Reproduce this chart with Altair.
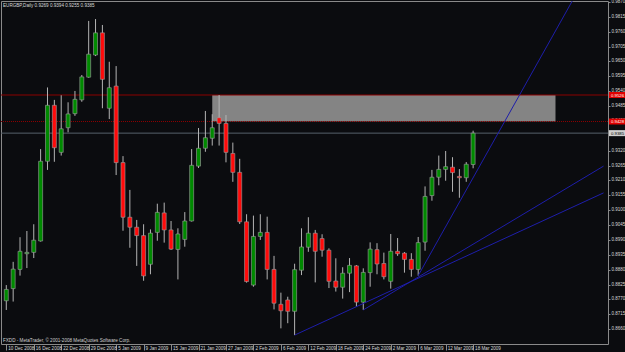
import altair as alt
import pandas as pd

# ---------------- data ----------------
opens = [0.8765, 0.8810, 0.8881, 0.8939, 0.8944, 0.8986, 0.9281, 0.9488, 0.9314, 0.9405,
         0.9457, 0.9508, 0.9592, 0.9674, 0.9756, 0.9477, 0.9559, 0.9276, 0.9074, 0.9037,
         0.9006, 0.8900, 0.9018, 0.9090, 0.9027, 0.8955, 0.8992, 0.9060, 0.9263, 0.9329,
         0.9366, 0.9442, 0.9421, 0.9310, 0.9240, 0.9057, 0.8823, 0.9003, 0.9018, 0.8881,
         0.8752, 0.8768, 0.8726, 0.8878, 0.8963, 0.9015, 0.8995, 0.8952, 0.8838, 0.8815,
         0.8867, 0.8894, 0.8760, 0.8869, 0.8954, 0.8903, 0.8837, 0.8948, 0.8941, 0.8918,
         0.8881, 0.8982, 0.9154, 0.9222, 0.9251, 0.9259, 0.9225, 0.9220, 0.9269]
highs = [0.8823, 0.8909, 0.9000, 0.9023, 0.9048, 0.9326, 0.9554, 0.9508, 0.9525, 0.9499,
         0.9541, 0.9600, 0.9800, 0.9807, 0.9785, 0.9649, 0.9633, 0.9300, 0.9175, 0.9064,
         0.9048, 0.9029, 0.9124, 0.9128, 0.9060, 0.9033, 0.9093, 0.9326, 0.9404, 0.9467,
         0.9455, 0.9526, 0.9452, 0.9350, 0.9290, 0.9085, 0.9080, 0.9085, 0.9076, 0.8931,
         0.8795, 0.8780, 0.8902, 0.9033, 0.9074, 0.9027, 0.9011, 0.8959, 0.8922, 0.8889,
         0.8923, 0.8897, 0.8885, 0.8981, 0.8978, 0.8943, 0.9012, 0.8997, 0.8945, 0.8941,
         0.9001, 0.9188, 0.9249, 0.9302, 0.9319, 0.9296, 0.9252, 0.9278, 0.9394]
lows = [0.8731, 0.8762, 0.8858, 0.8886, 0.8923, 0.8984, 0.9249, 0.9279, 0.9302, 0.9388,
        0.9449, 0.9501, 0.9590, 0.9670, 0.9477, 0.9437, 0.9230, 0.9024, 0.8961, 0.8894,
        0.8839, 0.8863, 0.8987, 0.8980, 0.8953, 0.8844, 0.8965, 0.9058, 0.9256, 0.9316,
        0.9339, 0.9339, 0.9277, 0.9205, 0.9049, 0.8832, 0.8817, 0.8990, 0.8844, 0.8733,
        0.8663, 0.8682, 0.8638, 0.8860, 0.8946, 0.8833, 0.8928, 0.8812, 0.8799, 0.8773,
        0.8797, 0.8743, 0.8731, 0.8817, 0.8863, 0.8844, 0.8810, 0.8931, 0.8869, 0.8854,
        0.8858, 0.8950, 0.9135, 0.9192, 0.9209, 0.9168, 0.9146, 0.9205, 0.9255]
closes = [0.8807, 0.8882, 0.8948, 0.8944, 0.8989, 0.9281, 0.9488, 0.9331, 0.9401, 0.9456,
          0.9510, 0.9593, 0.9677, 0.9756, 0.9584, 0.9553, 0.9276, 0.9074, 0.9037, 0.9006,
          0.8857, 0.9015, 0.9092, 0.9027, 0.8956, 0.9012, 0.9060, 0.9266, 0.9329, 0.9368,
          0.9405, 0.9421, 0.9314, 0.9240, 0.9057, 0.8836, 0.9003, 0.9018, 0.8881, 0.8756,
          0.8728, 0.8726, 0.8880, 0.8964, 0.9015, 0.8948, 0.8952, 0.8837, 0.8815, 0.8867,
          0.8896, 0.8760, 0.8870, 0.8956, 0.8901, 0.8854, 0.8948, 0.8939, 0.8918, 0.8881,
          0.8980, 0.9151, 0.9222, 0.9251, 0.9261, 0.9239, 0.9220, 0.9270, 0.9385]

date_ticks = [0, 4, 8, 12, 16, 20, 24, 28, 32, 36, 40, 44, 48, 52, 56, 60, 64, 68]
date_labels = ["10 Dec 2008", "16 Dec 2008", "22 Dec 2008", "29 Dec 2008", "5 Jan 2009",
               "9 Jan 2009", "15 Jan 2009", "21 Jan 2009", "27 Jan 2009", "2 Feb 2009",
               "6 Feb 2009", "12 Feb 2009", "18 Feb 2009", "24 Feb 2009", "2 Mar 2009",
               "6 Mar 2009", "12 Mar 2009", "18 Mar 2009"]
# 0.9375 is hidden behind the bid tag in the reference
price_ticks = [0.8605, 0.8660, 0.8715, 0.8770, 0.8825, 0.8880, 0.8935, 0.8990, 0.9045,
               0.9100, 0.9155, 0.9210, 0.9265, 0.9320, 0.9430, 0.9485, 0.9540,
               0.9595, 0.9650, 0.9705, 0.9760, 0.9815, 0.9870]

# zone rectangle (bar index start/end, price low/high)
zone_bars = [30, 80]
zone_prices = [0.9428, 0.9526]

# horizontal levels
level_names = ["resistance", "zone_low", "bid"]
level_prices = [0.9526, 0.9428, 0.9385]

# trend lines: start bar, start price, end bar, end price
trend_start_bar = [60, 52, 42]
trend_start_price = [0.8858, 0.8731, 0.8638]
trend_end_bar = [87, 87, 87]
trend_end_price = [1.0080, 0.9263, 0.9164]

title_text = "EURGBP,Daily  0.9269 0.9394 0.9255 0.9385"
copyright_text = "FXDD - MetaTrader, \u00a9 2001-2008 MetaQuotes Software Corp."

# ---------------- chart ----------------
FONT = "Liberation Sans"
BG = "#0b0c0f"
W, H = 607, 343

xscale = alt.Scale(domain=[-0.043, 86.92], nice=False, zero=False)
yscale = alt.Scale(domain=[0.86051, 0.98737], nice=False, zero=False)

candles = pd.DataFrame({"i": list(range(len(opens))), "o": opens, "h": highs,
                        "l": lows, "c": closes})
zone = pd.DataFrame({"x0": [zone_bars[0]], "x1": [zone_bars[1]],
                     "ylo": [zone_prices[0]], "yhi": [zone_prices[1]]})
levels = pd.DataFrame({"name": level_names, "level": level_prices})
trends = pd.DataFrame({"xa": trend_start_bar, "ya": trend_start_price,
                       "xb": trend_end_bar, "yb": trend_end_price})
texts = pd.DataFrame({"t": [title_text], "cp": [copyright_text]})

label_expr = "[" + ",".join("'%s'" % s for s in date_labels) + "][round(datum.value/4)]"

x_axis = alt.Axis(values=date_ticks, labelExpr=label_expr, labelAlign="left",
                  labelBaseline="middle", labelPadding=-2, labelOffset=1.5,
                  tickSize=6, tickColor="#8a8a8a", labelColor="#d8d8d8",
                  labelFontSize=4.6, labelFont=FONT, domain=False, grid=False,
                  labelFlush=False, labelOverlap=False, labelBound=False, title=None)
y_axis = alt.Axis(orient="right", values=price_ticks, format=".4f", tickSize=2,
                  tickColor="#8a8a8a", labelColor="#d8d8d8", labelFontSize=4.5,
                  labelFont=FONT, labelPadding=1, labelBaseline="middle",
                  labelOffset=-0.5,
                  domain=False, grid=False, labelOverlap=False, labelBound=False,
                  labelFlush=False, title=None)


def X(field):
    return alt.X(field, scale=xscale, axis=x_axis)


def Y(field):
    return alt.Y(field, scale=yscale, axis=y_axis)


zone_layer = alt.Chart(zone).mark_rect(color="#848484").encode(
    x=X("x0:Q"), x2="x1:Q", y=Y("ylo:Q"), y2="yhi:Q")

lvl_solid = alt.Chart(levels).transform_filter(alt.datum.name == "resistance").mark_rule(
    color="#8c0000", strokeWidth=1).encode(y=Y("level:Q"))
lvl_dot = alt.Chart(levels).transform_filter(alt.datum.name == "zone_low").mark_rule(
    color="#8c0000", strokeWidth=1, strokeDash=[1, 1]).encode(y=Y("level:Q"))
lvl_bid = alt.Chart(levels).transform_filter(alt.datum.name == "bid").mark_rule(
    color="#56616c", strokeWidth=1).encode(y=Y("level:Q"))

wicks = alt.Chart(candles).mark_rule(color="#b4b4b4", strokeWidth=1).encode(
    x=X("i:Q"), y=Y("l:Q"), y2="h:Q")

bodies = alt.Chart(candles).mark_bar(size=4, stroke="#a0a0a0", strokeWidth=0.6).encode(
    x=X("i:Q"), y=Y("o:Q"), y2="c:Q",
    color=alt.condition(alt.datum.c >= alt.datum.o, alt.value("#008a00"), alt.value("#ff0a0a")))

trend_layer = alt.Chart(trends).mark_rule(color="#1e1eaa", strokeWidth=1, clip=True).encode(
    x=X("xa:Q"), y=Y("ya:Q"), x2="xb:Q", y2="yb:Q")

# price tags on the right scale
tag_red = alt.Chart(levels).transform_filter(alt.datum.name != "bid").mark_tick(
    color="#e00000", thickness=6, size=16, opacity=1).encode(
    x=alt.value(616), y=Y("level:Q"))
tag_bid = alt.Chart(levels).transform_filter(alt.datum.name == "bid").mark_tick(
    color="#d0d0d0", thickness=6, size=16, opacity=1).encode(
    x=alt.value(616), y=Y("level:Q"))
tag_red_txt = alt.Chart(levels).transform_filter(alt.datum.name != "bid").mark_text(
    align="left", baseline="middle", font=FONT, fontSize=4.3, color="#ffffff", dy=0.5).encode(
    x=alt.value(610), y=Y("level:Q"), text=alt.Text("level:Q", format=".4f"))
tag_bid_txt = alt.Chart(levels).transform_filter(alt.datum.name == "bid").mark_text(
    align="left", baseline="middle", font=FONT, fontSize=4.3, color="#000000", dy=0.5).encode(
    x=alt.value(610), y=Y("level:Q"), text=alt.Text("level:Q", format=".4f"))

title_layer = alt.Chart(texts).mark_text(
    align="left", baseline="middle", font=FONT, fontSize=4.6, color="#d8d8d8").encode(
    x=alt.value(2), y=alt.value(5), text="t:N")
copy_layer = alt.Chart(texts).mark_text(
    align="left", baseline="middle", font=FONT, fontSize=4.6, color="#d0d0d0").encode(
    x=alt.value(2), y=alt.value(339.5), text="cp:N")

chart = alt.layer(
    zone_layer, lvl_solid, lvl_dot, lvl_bid, wicks, bodies, trend_layer,
    tag_red, tag_bid, tag_red_txt, tag_bid_txt, title_layer, copy_layer
).properties(
    width=W, height=H,
    autosize=alt.AutoSizeParams(type="none"),
    padding={"left": 1, "top": 1, "right": 17, "bottom": 8},
    background=BG,
).configure_view(stroke="#8a8a8a", strokeWidth=1, fill=BG)

chart.save("out.html", embed_options={"renderer": "svg", "actions": False})
